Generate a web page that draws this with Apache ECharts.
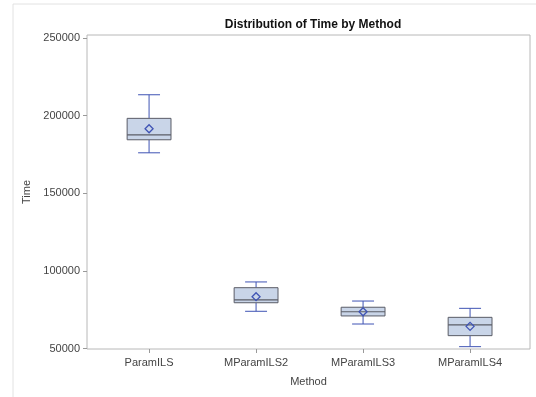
<!DOCTYPE html>
<html>
<head>
<meta charset="utf-8">
<script src="https://cdn.jsdelivr.net/npm/echarts@6/dist/echarts.min.js"></script>
<style>
  html, body { margin: 0; padding: 0; background: #fff; }
  #chart { width: 536px; height: 397px; }
</style>
</head>
<body>
<div id="chart"></div>
<script>
// categories and summary stats
var methods = ['ParamILS', 'MParamILS2', 'MParamILS3', 'MParamILS4'];
var whiskerLow = [176100, 74000, 65800, 51200];
var q1 = [184500, 79500, 71000, 58300];
var median = [187700, 81300, 73700, 65200];
var q3 = [198300, 89200, 76600, 70100];
var whiskerHigh = [213500, 92900, 80600, 75900];
var mean = [191600, 83400, 73700, 64300];
var yTicks = [50000, 100000, 150000, 200000, 250000];

var boxData = methods.map(function (m, i) {
  return [i, whiskerLow[i], q1[i], median[i], q3[i], whiskerHigh[i], mean[i]];
});

var whiskerColor = '#3f53b4';
var boxBorder = '#5a5c66';
var boxFill = '#c9d5e8';

var chart = echarts.init(document.getElementById('chart'));

function renderBox(params, api) {
  var x = api.value(0);
  var pLow = api.coord([x, api.value(1)]);
  var pQ1 = api.coord([x, api.value(2)]);
  var pMed = api.coord([x, api.value(3)]);
  var pQ3 = api.coord([x, api.value(4)]);
  var pHigh = api.coord([x, api.value(5)]);
  var pMean = api.coord([x, api.value(6)]);
  var step = api.size([1, 0])[0];
  var half = step * 0.205;
  var cap = half / 2;
  var cx = pQ1[0];
  var d = 4;
  return {
    type: 'group',
    children: [
      { type: 'line', shape: { x1: cx, y1: pQ3[1], x2: cx, y2: pHigh[1] }, style: { stroke: whiskerColor, lineWidth: 1 } },
      { type: 'line', shape: { x1: cx, y1: pQ1[1], x2: cx, y2: pLow[1] }, style: { stroke: whiskerColor, lineWidth: 1 } },
      { type: 'line', shape: { x1: cx - cap, y1: pHigh[1], x2: cx + cap, y2: pHigh[1] }, style: { stroke: whiskerColor, lineWidth: 1 } },
      { type: 'line', shape: { x1: cx - cap, y1: pLow[1], x2: cx + cap, y2: pLow[1] }, style: { stroke: whiskerColor, lineWidth: 1 } },
      { type: 'rect', shape: { x: cx - half, y: pQ3[1], width: half * 2, height: pQ1[1] - pQ3[1] }, style: { fill: boxFill, stroke: boxBorder, lineWidth: 1 } },
      { type: 'line', shape: { x1: cx - half, y1: pMed[1], x2: cx + half, y2: pMed[1] }, style: { stroke: boxBorder, lineWidth: 1.2 } },
      { type: 'polygon', shape: { points: [[pMean[0], pMean[1] - d], [pMean[0] + d, pMean[1]], [pMean[0], pMean[1] + d], [pMean[0] - d, pMean[1]]] }, style: { fill: 'rgba(0,0,0,0)', stroke: whiskerColor, lineWidth: 1.3 } }
    ]
  };
}

var option = {
  animation: false,
  textStyle: { fontFamily: 'Liberation Sans, Arial, sans-serif' },
  title: {
    text: 'Distribution of Time by Method',
    left: 308,
    textAlign: 'center',
    top: 14,
    textStyle: { fontSize: 12, fontWeight: 'bold', color: '#111' }
  },
  graphic: [
    { type: 'rect', shape: { x: 13, y: 4, width: 600, height: 500 }, style: { fill: 'none', stroke: '#e2e2e2', lineWidth: 1 }, silent: true, z: -1 }
  ],
  grid: { left: 87, top: 35, right: 6, bottom: 48, show: true, borderColor: '#b8b8b8', borderWidth: 1, backgroundColor: '#fff' },
  xAxis: {
    type: 'value',
    min: -0.58,
    max: 3.56,
    name: 'Method',
    nameLocation: 'middle',
    nameGap: 27,
    nameTextStyle: { fontSize: 11, color: '#444' },
    axisLine: { show: false, onZero: false },
    splitLine: { show: false },
    axisTick: { show: true, customValues: [0, 1, 2, 3], length: 4, lineStyle: { color: '#999' } },
    axisLabel: {
      customValues: [0, 1, 2, 3],
      fontSize: 11,
      color: '#444',
      margin: 8,
      formatter: function (v) { return methods[Math.round(v)]; }
    }
  },
  yAxis: {
    type: 'value',
    min: 49700,
    max: 252000,
    name: 'Time',
    nameLocation: 'middle',
    nameGap: 49,
    nameTextStyle: { fontSize: 11, color: '#444' },
    axisLine: { show: false, onZero: false },
    splitLine: { show: false },
    axisTick: { show: true, customValues: yTicks, length: 4, lineStyle: { color: '#999' } },
    axisLabel: {
      customValues: yTicks,
      fontSize: 11,
      color: '#444',
      margin: 7,
      formatter: function (v) { return String(v); }
    }
  },
  series: [{
    type: 'custom',
    renderItem: renderBox,
    encode: { x: 0, y: [1, 2, 3, 4, 5, 6] },
    data: boxData
  }]
};

chart.setOption(option);
</script>
</body>
</html>
